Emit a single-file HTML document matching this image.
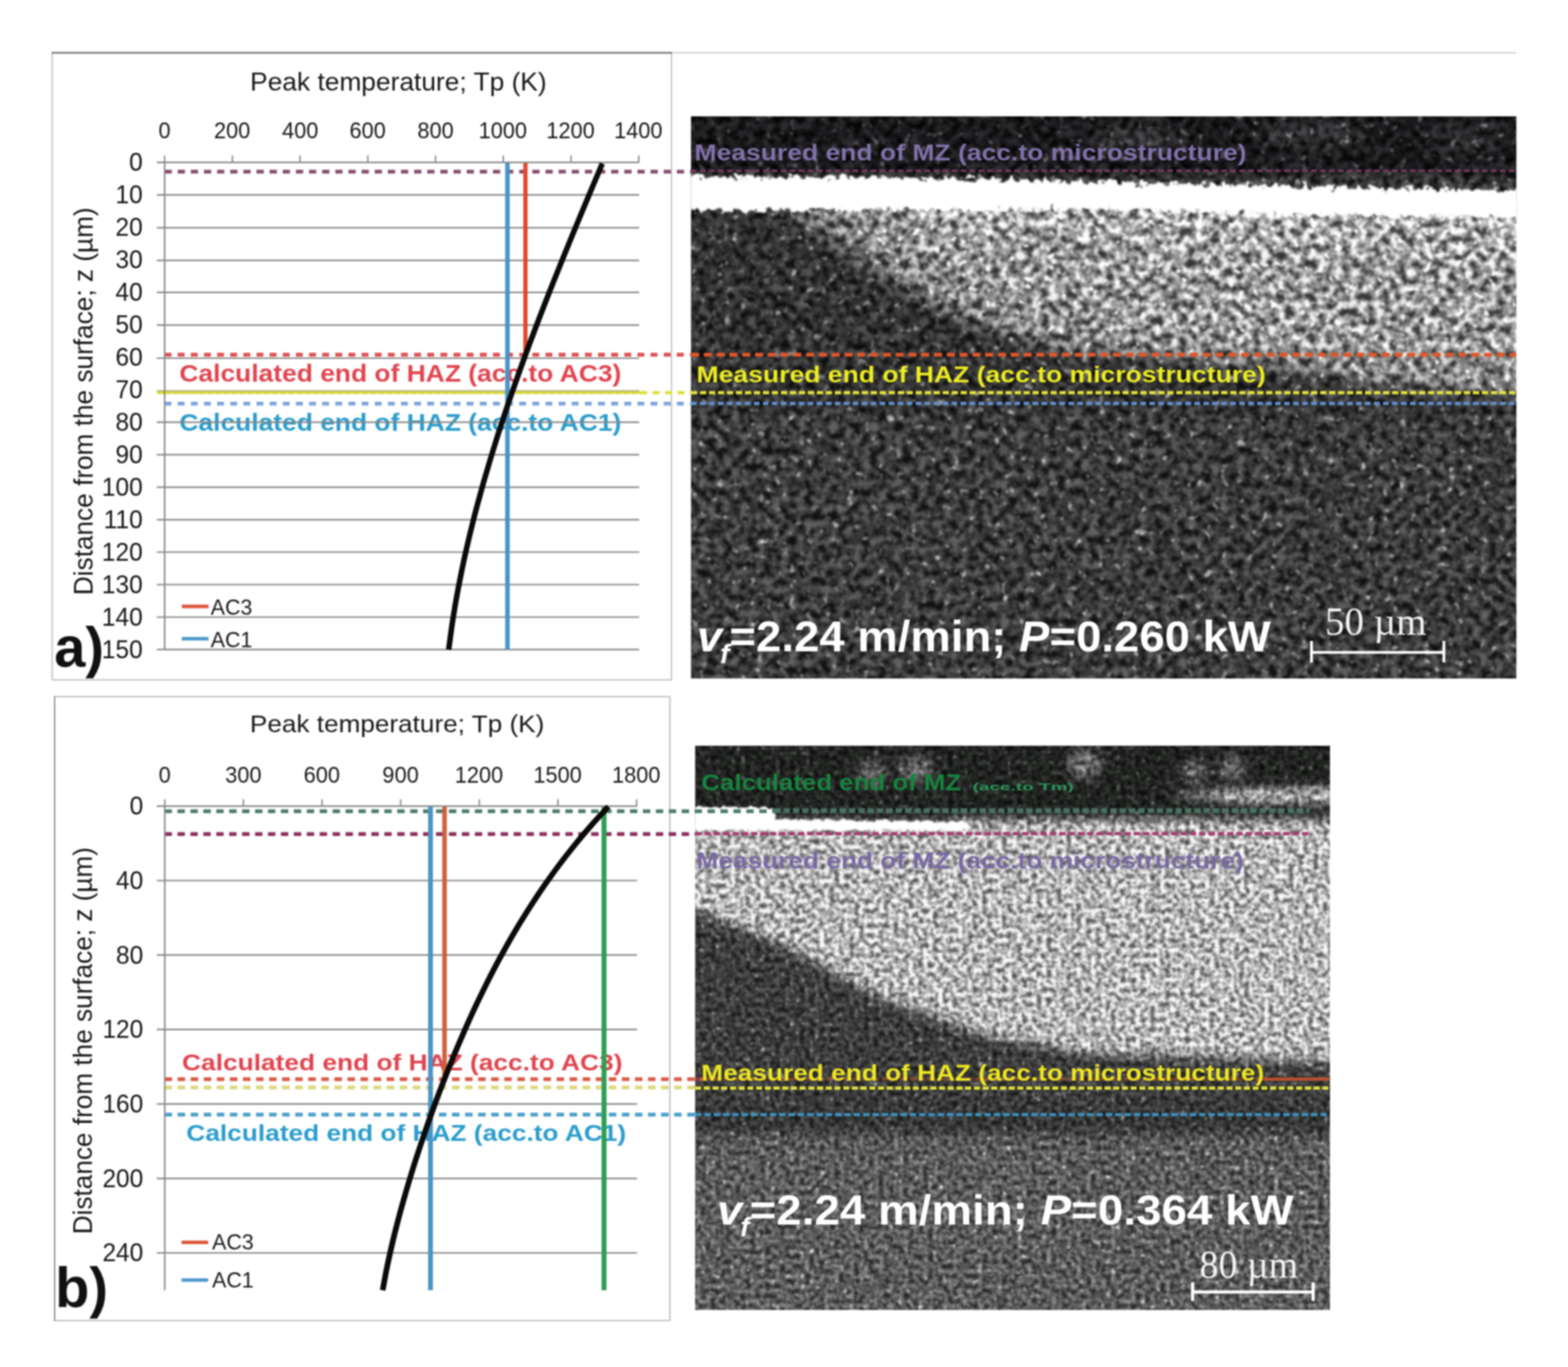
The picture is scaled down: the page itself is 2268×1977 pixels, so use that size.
<!DOCTYPE html>
<html lang="en"><head><meta charset="utf-8"><title>Peak temperature vs. distance from the surface</title>
<style>html,body{margin:0;padding:0;background:#ffffff}body{width:2268px;height:1977px;overflow:hidden}svg{display:block;filter:blur(0.95px)}text{font-family:"Liberation Sans",sans-serif}</style>
</head><body>
<svg width="2268" height="1977" viewBox="0 0 2268 1977">
<defs>
<filter id="texA" x="0" y="0" width="100%" height="100%" color-interpolation-filters="sRGB">
<feGaussianBlur in="SourceGraphic" stdDeviation="8" result="base"/>
<feTurbulence type="fractalNoise" baseFrequency="0.085" numOctaves="2" seed="7" result="n0"/>
<feColorMatrix in="n0" type="matrix" values="2.3 0 0 0 -0.65  2.3 0 0 0 -0.65  2.3 0 0 0 -0.65  0 0 0 0 1" result="n1"/>
<feColorMatrix in="n0" type="matrix" values="0 5 0 0 -3.2  0 5 0 0 -3.2  0 5 0 0 -3.2  0 0 0 0 1" result="sp"/>
<feComposite in="base" in2="n1" operator="arithmetic" k1="1.2" k2="0.38" k3="0.04" k4="-0.02" result="tex"/>
<feComposite in="base" in2="sp" operator="arithmetic" k1="1.1" k2="0" k3="0.26" k4="0" result="spk"/>
<feComposite in="tex" in2="spk" operator="arithmetic" k1="0" k2="1" k3="1" k4="0" result="mix"/>
<feGaussianBlur in="mix" stdDeviation="0.9"/>
</filter>
<filter id="texB" x="0" y="0" width="100%" height="100%" color-interpolation-filters="sRGB">
<feGaussianBlur in="SourceGraphic" stdDeviation="8" result="base"/>
<feTurbulence type="fractalNoise" baseFrequency="0.14" numOctaves="2" seed="23" result="n0"/>
<feColorMatrix in="n0" type="matrix" values="2.0 0 0 0 -0.5  2.0 0 0 0 -0.5  2.0 0 0 0 -0.5  0 0 0 0 1" result="n1"/>
<feColorMatrix in="n0" type="matrix" values="0 5 0 0 -3.2  0 5 0 0 -3.2  0 5 0 0 -3.2  0 0 0 0 1" result="sp"/>
<feComposite in="base" in2="n1" operator="arithmetic" k1="1.1" k2="0.45" k3="0.04" k4="-0.02" result="tex"/>
<feComposite in="base" in2="sp" operator="arithmetic" k1="0.9" k2="0" k3="0.2" k4="0" result="spk"/>
<feComposite in="tex" in2="spk" operator="arithmetic" k1="0" k2="1" k3="1" k4="0" result="mix"/>
<feGaussianBlur in="mix" stdDeviation="0.9"/>
</filter>
<filter id="ragA" x="-2%" y="-60%" width="104%" height="220%" color-interpolation-filters="sRGB">
<feTurbulence type="fractalNoise" baseFrequency="0.12" numOctaves="2" seed="3" result="t"/>
<feDisplacementMap in="SourceGraphic" in2="t" scale="22" xChannelSelector="R" yChannelSelector="G" result="d"/>
<feGaussianBlur in="d" stdDeviation="0.9"/>
</filter>
<filter id="ragB" x="-2%" y="-60%" width="104%" height="220%" color-interpolation-filters="sRGB">
<feTurbulence type="fractalNoise" baseFrequency="0.12" numOctaves="2" seed="5" result="t"/>
<feDisplacementMap in="SourceGraphic" in2="t" scale="10" xChannelSelector="R" yChannelSelector="G" result="d"/>
<feGaussianBlur in="d" stdDeviation="0.9"/>
</filter>
</defs>
<clipPath id="clipA"><rect x="999.5" y="168.3" width="1193.8" height="813.0"/></clipPath>
<g id="micro-a" clip-path="url(#clipA)">
<g filter="url(#texA)">
<rect x="939.5" y="108.30000000000001" width="1313.8" height="933.0" fill="#3a3a3a"/>
<path d="M930,290 L1215,290 L1342,399 L1462,466 L1553,502 L1700,520 L1800,560 L2260,600 L930,600 Z" fill="#313131"/>
<path d="M1105,296 L1195,352 L1270,402 L1340,444 L1420,480 L1535,512 L1700,524 L1830,532 L2000,560 L2260,576 L2260,290 Z" fill="#5a5a5a"/>
<path d="M1150,296 L1235,350 L1305,399 L1370,438 L1445,472 L1550,504 L1700,516 L1830,524 L2000,552 L2260,568 L2260,290 Z" fill="#848484"/>
<path d="M1250,296 L1370,390 L1540,470 L1800,500 L2260,520 L2260,290 Z" fill="#969696"/>
<path d="M1300,296 L1430,340 L1800,360 L2260,380 L2260,290 Z" fill="#a6a6a6"/>
<rect x="939.5" y="108.30000000000001" width="1313.8" height="145.7" fill="#19191b"/>
<ellipse cx="1640" cy="200" rx="60" ry="22" fill="#2e2e30"/><ellipse cx="1900" cy="196" rx="80" ry="22" fill="#2c2c2e"/><ellipse cx="2120" cy="200" rx="50" ry="20" fill="#2a2a2c"/>
</g>
<path filter="url(#ragA)" d="M930,255 L1300,256 L1583,263 L1900,270 L2260,277 L2260,316 L1900,311 L1583,303 L1300,303 L1100,305 L930,307 Z" fill="#ffffff"/>
<line x1="999.5" y1="247.0" x2="2193.3" y2="247.0" stroke="#7a3a60" stroke-width="3.5" stroke-dasharray="8 5"/>
<line x1="999.5" y1="513.0" x2="2193.3" y2="513.0" stroke="#e2562a" stroke-width="5.6" stroke-dasharray="11.5 7"/>
<line x1="999.5" y1="567.8" x2="2193.3" y2="567.8" stroke="#e4e43a" stroke-width="4.8" stroke-dasharray="9 4"/>
<line x1="999.5" y1="583.5" x2="2193.3" y2="583.5" stroke="#5e8ecc" stroke-width="5" stroke-dasharray="8 5"/>
<text transform="translate(1004.51,232.00) scale(1.1376,1)" font-size="33.7" fill="#8272ac" font-weight="700" >Measured end of MZ (acc.to microstructure)</text>
<text transform="translate(1007.50,553.10) scale(1.1394,1)" font-size="33.7" fill="#eeee22" font-weight="700" >Measured end of HAZ (acc.to microstructure)</text>
<text transform="translate(1008,942) scale(1.037,1)" font-size="63.5" fill="#ffffff" font-weight="700"><tspan font-style="italic">v</tspan><tspan font-style="italic" font-size="39.4" dx="-3" dy="17">f</tspan><tspan dy="-17">=2.24 m/min; </tspan><tspan font-style="italic">P</tspan>=0.260 kW</text>
<text transform="translate(1916.60,918.00) scale(0.9715,1)" font-size="58" fill="#f4f4f4" font-weight="400" style="font-family:'Liberation Serif',serif" >50 µm</text>
<line x1="1895.6" y1="943.4" x2="2089.8" y2="943.4" stroke="#ffffff" stroke-width="4" />
<line x1="1897.0" y1="927.0" x2="1897.0" y2="958.0" stroke="#ffffff" stroke-width="4" />
<line x1="2088.5" y1="927.0" x2="2088.5" y2="958.0" stroke="#ffffff" stroke-width="4" />
</g>
<clipPath id="clipB"><rect x="1005.5" y="1078.5" width="918.2" height="816.0"/></clipPath>
<g id="micro-b" clip-path="url(#clipB)">
<g filter="url(#texB)">
<rect x="945.5" y="1018.5" width="1038.2" height="936.0" fill="#585858"/>
<rect x="945.5" y="1565" width="1038.2" height="75" fill="#343434"/>
<path d="M940,1290 L1005,1315 L1127,1364 L1275,1443 L1422,1500 L1569,1526 L1990,1540 L1990,1600 L940,1600 Z" fill="#3a3a3a"/>
<path d="M940,1195 L1990,1195 L1990,1537 L1569,1522 L1422,1496 L1275,1443 L1127,1364 L1005,1315 L940,1290 Z" fill="#b0b0b0"/>
<rect x="945.5" y="1018.5" width="1038.2" height="165.5" fill="#202220"/>
<ellipse cx="1262" cy="1118" rx="20" ry="18" fill="#606060"/><ellipse cx="1325" cy="1112" rx="24" ry="18" fill="#686868"/>
<ellipse cx="1569" cy="1105" rx="24" ry="20" fill="#707070"/><ellipse cx="1728" cy="1116" rx="16" ry="16" fill="#6c6c6c"/><ellipse cx="1782" cy="1110" rx="17" ry="17" fill="#6c6c6c"/>
<path d="M1690,1150 L1800,1142 L1990,1140 L1990,1160 L1800,1160 Z" fill="#c8c8c8"/>
<path d="M1380,1186 L1990,1186 L1990,1200 L1380,1200 Z" fill="#b8b8b8"/>
</g>
<path filter="url(#ragB)" d="M940,1167 L1118,1167 L1122,1185 L1250,1186 L1400,1189 L1400,1201 L940,1201 Z" fill="#ffffff"/>
<line x1="1120.0" y1="1172.2" x2="1894.0" y2="1172.2" stroke="#4c7a68" stroke-width="7" stroke-dasharray="9 4.5" opacity="0.9"/>
<line x1="1005.5" y1="1205.6" x2="1894.0" y2="1205.6" stroke="#a83c72" stroke-width="4.6" stroke-dasharray="9 4.5"/>
<line x1="1005.5" y1="1560.6" x2="1827.0" y2="1560.6" stroke="#b4502c" stroke-width="4.5" stroke-dasharray="9 4.5" opacity="0.6"/>
<line x1="1827.0" y1="1560.6" x2="1923.7" y2="1560.6" stroke="#b8522e" stroke-width="4.6" />
<line x1="1005.5" y1="1573.6" x2="1923.7" y2="1573.6" stroke="#e2e23a" stroke-width="4.6" stroke-dasharray="8.6 4"/>
<line x1="1005.5" y1="1612.0" x2="1929.0" y2="1612.0" stroke="#3a94c6" stroke-width="4.6" stroke-dasharray="9 4.5"/>
<text transform="translate(1014.50,1143.10) scale(1.1326,1)" font-size="33" fill="#17843f" font-weight="700" >Calculated end of MZ</text>
<text transform="translate(1406.76,1143.10) scale(1.8949,1)" font-size="14.5" fill="#2a9a5a" font-weight="700" >(acc.to Tm)</text>
<text transform="translate(1007.33,1256.00) scale(1.1518,1)" font-size="33" fill="#7868a4" font-weight="700" >Measured end of MZ (acc.to microstructure)</text>
<text transform="translate(1014.33,1563.00) scale(1.1507,1)" font-size="33" fill="#f0e822" font-weight="700" >Measured end of HAZ (acc.to microstructure)</text>
<text transform="translate(1037,1770.5) scale(1.067,1)" font-size="62" fill="#ffffff" font-weight="700"><tspan font-style="italic">v</tspan><tspan font-style="italic" font-size="38.4" dx="-3" dy="17">f</tspan><tspan dy="-17">=2.24 m/min; </tspan><tspan font-style="italic">P</tspan>=0.364 kW</text>
<text transform="translate(1735.08,1847.50) scale(0.9780,1)" font-size="56" fill="#f4f4f4" font-weight="400" style="font-family:'Liberation Serif',serif" >80 µm</text>
<line x1="1723.5" y1="1868.5" x2="1900.6" y2="1868.5" stroke="#ffffff" stroke-width="4.6" />
<line x1="1725.0" y1="1854.5" x2="1725.0" y2="1881.5" stroke="#ffffff" stroke-width="4.6" />
<line x1="1899.3" y1="1854.5" x2="1899.3" y2="1881.5" stroke="#ffffff" stroke-width="4.6" />
</g>
<g id="chart-a">
<rect x="75.5" y="76.3" width="895.8" height="907" fill="#ffffff" stroke="#b4b4b4" stroke-width="1.6"/>
<line x1="74.7" y1="76.3" x2="972.1" y2="76.3" stroke="#6e6e6e" stroke-width="2.2" />
<line x1="972.1" y1="76.3" x2="2193.0" y2="76.3" stroke="#c6c6c6" stroke-width="1.8" />
<line x1="238.0" y1="248.3" x2="1000.0" y2="248.3" stroke="#87506f" stroke-width="5.4" stroke-dasharray="10.5 8.5"/>
<line x1="238.0" y1="513.0" x2="1000.0" y2="513.0" stroke="#e04e50" stroke-width="5.6" stroke-dasharray="10 9"/>
<line x1="926.0" y1="567.8" x2="1000.0" y2="567.8" stroke="#dede3c" stroke-width="4.8" stroke-dasharray="10 8"/>
<line x1="238.0" y1="583.8" x2="1000.0" y2="583.8" stroke="#7ea4da" stroke-width="5.4" stroke-dasharray="10 9"/>
<text transform="translate(259.47,552.00) scale(1.1072,1)" font-size="34.5" fill="#e0444e" font-weight="700" >Calculated end of HAZ (acc.to AC3)</text>
<text transform="translate(259.47,623.40) scale(1.1072,1)" font-size="34.5" fill="#2a9ccc" font-weight="700" >Calculated end of HAZ (acc.to AC1)</text>
<text transform="translate(361.75,130.50) scale(1.0583,1)" font-size="36" fill="#181818" font-weight="400" >Peak temperature; Tp (K)</text>
<text transform="translate(229.35,199.60) scale(0.9550,1)" font-size="33" fill="#181818" font-weight="400" >0</text>
<line x1="238.1" y1="224.8" x2="238.1" y2="234.9" stroke="#868686" stroke-width="2" />
<text transform="translate(309.56,199.60) scale(0.9550,1)" font-size="33" fill="#181818" font-weight="400" >200</text>
<line x1="336.1" y1="224.8" x2="336.1" y2="234.9" stroke="#868686" stroke-width="2" />
<text transform="translate(408.01,199.60) scale(0.9550,1)" font-size="33" fill="#181818" font-weight="400" >400</text>
<line x1="434.0" y1="224.8" x2="434.0" y2="234.9" stroke="#868686" stroke-width="2" />
<text transform="translate(505.51,199.60) scale(0.9550,1)" font-size="33" fill="#181818" font-weight="400" >600</text>
<line x1="532.0" y1="224.8" x2="532.0" y2="234.9" stroke="#868686" stroke-width="2" />
<text transform="translate(603.63,199.60) scale(0.9550,1)" font-size="33" fill="#181818" font-weight="400" >800</text>
<line x1="630.0" y1="224.8" x2="630.0" y2="234.9" stroke="#868686" stroke-width="2" />
<text transform="translate(692.29,199.60) scale(0.9550,1)" font-size="33" fill="#181818" font-weight="400" >1000</text>
<line x1="728.0" y1="224.8" x2="728.0" y2="234.9" stroke="#868686" stroke-width="2" />
<text transform="translate(790.26,199.60) scale(0.9550,1)" font-size="33" fill="#181818" font-weight="400" >1200</text>
<line x1="825.9" y1="224.8" x2="825.9" y2="234.9" stroke="#868686" stroke-width="2" />
<text transform="translate(888.23,199.60) scale(0.9550,1)" font-size="33" fill="#181818" font-weight="400" >1400</text>
<line x1="923.9" y1="224.8" x2="923.9" y2="234.9" stroke="#868686" stroke-width="2" />
<line x1="226.8" y1="234.9" x2="924.5" y2="234.9" stroke="#868686" stroke-width="2.2" />
<text transform="translate(186.77,247.30) scale(0.9500,1)" font-size="37.3" fill="#181818" font-weight="400" >0</text>
<line x1="226.8" y1="281.9" x2="924.5" y2="281.9" stroke="#868686" stroke-width="2.2" />
<text transform="translate(167.07,294.27) scale(0.9500,1)" font-size="37.3" fill="#181818" font-weight="400" >10</text>
<line x1="226.8" y1="329.4" x2="924.5" y2="329.4" stroke="#868686" stroke-width="2.2" />
<text transform="translate(167.07,341.24) scale(0.9500,1)" font-size="37.3" fill="#181818" font-weight="400" >20</text>
<line x1="226.8" y1="376.6" x2="924.5" y2="376.6" stroke="#868686" stroke-width="2.2" />
<text transform="translate(167.07,388.21) scale(0.9500,1)" font-size="37.3" fill="#181818" font-weight="400" >30</text>
<line x1="226.8" y1="422.8" x2="924.5" y2="422.8" stroke="#868686" stroke-width="2.2" />
<text transform="translate(167.07,435.18) scale(0.9500,1)" font-size="37.3" fill="#181818" font-weight="400" >40</text>
<line x1="226.8" y1="470.2" x2="924.5" y2="470.2" stroke="#868686" stroke-width="2.2" />
<text transform="translate(167.07,482.15) scale(0.9500,1)" font-size="37.3" fill="#181818" font-weight="400" >50</text>
<line x1="226.8" y1="518.0" x2="924.5" y2="518.0" stroke="#868686" stroke-width="2.2" />
<text transform="translate(167.07,529.12) scale(0.9500,1)" font-size="37.3" fill="#181818" font-weight="400" >60</text>
<line x1="226.8" y1="565.5" x2="924.5" y2="565.5" stroke="#868686" stroke-width="2.2" />
<text transform="translate(167.07,576.09) scale(0.9500,1)" font-size="37.3" fill="#181818" font-weight="400" >70</text>
<line x1="226.8" y1="610.7" x2="924.5" y2="610.7" stroke="#868686" stroke-width="2.2" />
<text transform="translate(167.07,623.06) scale(0.9500,1)" font-size="37.3" fill="#181818" font-weight="400" >80</text>
<line x1="226.8" y1="657.6" x2="924.5" y2="657.6" stroke="#868686" stroke-width="2.2" />
<text transform="translate(167.07,670.03) scale(0.9500,1)" font-size="37.3" fill="#181818" font-weight="400" >90</text>
<line x1="226.8" y1="704.6" x2="924.5" y2="704.6" stroke="#868686" stroke-width="2.2" />
<text transform="translate(147.36,717.00) scale(0.9500,1)" font-size="37.3" fill="#181818" font-weight="400" >100</text>
<line x1="226.8" y1="751.6" x2="924.5" y2="751.6" stroke="#868686" stroke-width="2.2" />
<text transform="translate(149.99,763.97) scale(0.9500,1)" font-size="37.3" fill="#181818" font-weight="400" >110</text>
<line x1="226.8" y1="798.5" x2="924.5" y2="798.5" stroke="#868686" stroke-width="2.2" />
<text transform="translate(147.36,810.94) scale(0.9500,1)" font-size="37.3" fill="#181818" font-weight="400" >120</text>
<line x1="226.8" y1="845.5" x2="924.5" y2="845.5" stroke="#868686" stroke-width="2.2" />
<text transform="translate(147.36,857.91) scale(0.9500,1)" font-size="37.3" fill="#181818" font-weight="400" >130</text>
<line x1="226.8" y1="892.5" x2="924.5" y2="892.5" stroke="#868686" stroke-width="2.2" />
<text transform="translate(147.36,904.88) scale(0.9500,1)" font-size="37.3" fill="#181818" font-weight="400" >140</text>
<line x1="226.8" y1="939.4" x2="924.5" y2="939.4" stroke="#868686" stroke-width="2.2" />
<text transform="translate(147.36,951.85) scale(0.9500,1)" font-size="37.3" fill="#181818" font-weight="400" >150</text>
<line x1="227.0" y1="567.8" x2="926.0" y2="567.8" stroke="#d9d93a" stroke-width="4.4" stroke-dasharray="11 0.8"/>
<line x1="238.1" y1="234.9" x2="238.1" y2="939.4" stroke="#868686" stroke-width="2.2" />
<text transform="translate(134.20,860.83) rotate(-90) scale(0.9978,1)" font-size="38" fill="#181818">Distance from the surface; z (µm)</text>
<line x1="734.0" y1="236.0" x2="734.0" y2="939.6" stroke="#4a94c4" stroke-width="6.6" />
<line x1="760.0" y1="236.0" x2="760.0" y2="515.0" stroke="#e2472b" stroke-width="6.2" />
<path d="M871.2,236.5 C868.6,242.7 860.8,261.2 855.6,273.5 C850.4,285.8 845.3,298.2 840.1,310.5 C835.0,322.8 829.9,335.2 824.8,347.5 C819.8,359.9 814.7,372.2 809.8,384.5 C804.8,396.9 799.9,409.2 795.0,421.5 C790.1,433.9 785.3,446.2 780.6,458.5 C775.8,470.9 771.2,483.2 766.6,495.5 C762.0,507.9 757.4,520.2 753.0,532.5 C748.6,544.9 744.2,557.2 740.0,569.5 C735.7,581.9 731.5,594.2 727.5,606.6 C723.4,618.9 719.4,631.2 715.6,643.6 C711.7,655.9 708.0,668.2 704.4,680.6 C700.7,692.9 697.2,705.2 693.9,717.6 C690.5,729.9 687.2,742.2 684.1,754.6 C681.0,766.9 678.1,779.2 675.2,791.6 C672.4,803.9 669.7,816.2 667.2,828.6 C664.7,840.9 662.3,853.3 660.1,865.6 C657.9,877.9 655.9,890.3 654.0,902.6 C652.2,914.9 649.8,933.4 649.0,939.6" fill="none" stroke="#0a0a0a" stroke-width="8"/>
<line x1="263.0" y1="877.0" x2="301.6" y2="877.0" stroke="#dc5236" stroke-width="5" />
<text transform="translate(304.80,889.00) scale(1.0000,1)" font-size="31" fill="#181818" font-weight="400" >AC3</text>
<line x1="263.0" y1="923.8" x2="301.6" y2="923.8" stroke="#4a98cc" stroke-width="5" />
<text transform="translate(304.80,936.30) scale(1.0000,1)" font-size="31" fill="#181818" font-weight="400" >AC1</text>
<text transform="translate(78.47,964.30) scale(1.0000,1)" font-size="81" fill="#111111" font-weight="700" >a)</text>
</g>
<g id="chart-b">
<rect x="79" y="1007.5" width="890" height="902.3" fill="#ffffff" stroke="#b0b0b0" stroke-width="1.6"/>
<line x1="79.0" y1="1007.0" x2="79.0" y2="1910.5" stroke="#8e8e8e" stroke-width="2" />
<line x1="238.0" y1="1173.3" x2="1120.0" y2="1173.3" stroke="#4c7c6a" stroke-width="5.4" stroke-dasharray="10.7 8"/>
<line x1="238.0" y1="1206.3" x2="1006.0" y2="1206.3" stroke="#8c2f60" stroke-width="5.4" stroke-dasharray="10.7 8"/>
<line x1="238.0" y1="1560.8" x2="1016.0" y2="1560.8" stroke="#dc5a48" stroke-width="5.4" stroke-dasharray="10.9 8"/>
<line x1="238.0" y1="1572.8" x2="1006.0" y2="1572.8" stroke="#dcd87c" stroke-width="5.4" stroke-dasharray="10.9 8"/>
<line x1="238.0" y1="1612.0" x2="1006.0" y2="1612.0" stroke="#4aa0cc" stroke-width="5.4" stroke-dasharray="10.9 8"/>
<text transform="translate(263.28,1548.10) scale(1.1193,1)" font-size="34" fill="#e0444e" font-weight="700" >Calculated end of HAZ (acc.to AC3)</text>
<text transform="translate(269.48,1650.10) scale(1.1180,1)" font-size="34" fill="#2a9ccc" font-weight="700" >Calculated end of HAZ (acc.to AC1)</text>
<text transform="translate(361.47,1058.70) scale(1.0509,1)" font-size="36" fill="#181818" font-weight="400" >Peak temperature; Tp (K)</text>
<text transform="translate(229.55,1131.70) scale(0.9550,1)" font-size="33" fill="#181818" font-weight="400" >0</text>
<line x1="238.3" y1="1155.8" x2="238.3" y2="1165.8" stroke="#868686" stroke-width="2" />
<text transform="translate(325.78,1131.70) scale(0.9550,1)" font-size="33" fill="#181818" font-weight="400" >300</text>
<line x1="352.1" y1="1155.8" x2="352.1" y2="1165.8" stroke="#868686" stroke-width="2" />
<text transform="translate(439.29,1131.70) scale(0.9550,1)" font-size="33" fill="#181818" font-weight="400" >600</text>
<line x1="465.8" y1="1155.8" x2="465.8" y2="1165.8" stroke="#868686" stroke-width="2" />
<text transform="translate(553.12,1131.70) scale(0.9550,1)" font-size="33" fill="#181818" font-weight="400" >900</text>
<line x1="579.5" y1="1155.8" x2="579.5" y2="1165.8" stroke="#868686" stroke-width="2" />
<text transform="translate(657.63,1131.70) scale(0.9550,1)" font-size="33" fill="#181818" font-weight="400" >1200</text>
<line x1="693.3" y1="1155.8" x2="693.3" y2="1165.8" stroke="#868686" stroke-width="2" />
<text transform="translate(771.38,1131.70) scale(0.9550,1)" font-size="33" fill="#181818" font-weight="400" >1500</text>
<line x1="807.0" y1="1155.8" x2="807.0" y2="1165.8" stroke="#868686" stroke-width="2" />
<text transform="translate(885.13,1131.70) scale(0.9550,1)" font-size="33" fill="#181818" font-weight="400" >1800</text>
<line x1="920.8" y1="1155.8" x2="920.8" y2="1165.8" stroke="#868686" stroke-width="2" />
<line x1="226.8" y1="1165.8" x2="921.4" y2="1165.8" stroke="#868686" stroke-width="2.2" />
<text transform="translate(187.57,1178.20) scale(0.9500,1)" font-size="37.3" fill="#181818" font-weight="400" >0</text>
<line x1="226.8" y1="1273.5" x2="921.4" y2="1273.5" stroke="#868686" stroke-width="2.2" />
<text transform="translate(167.87,1285.90) scale(0.9500,1)" font-size="37.3" fill="#181818" font-weight="400" >40</text>
<line x1="226.8" y1="1381.2" x2="921.4" y2="1381.2" stroke="#868686" stroke-width="2.2" />
<text transform="translate(167.87,1393.60) scale(0.9500,1)" font-size="37.3" fill="#181818" font-weight="400" >80</text>
<line x1="226.8" y1="1488.9" x2="921.4" y2="1488.9" stroke="#868686" stroke-width="2.2" />
<text transform="translate(148.16,1501.30) scale(0.9500,1)" font-size="37.3" fill="#181818" font-weight="400" >120</text>
<line x1="226.8" y1="1596.6" x2="921.4" y2="1596.6" stroke="#868686" stroke-width="2.2" />
<text transform="translate(148.16,1609.00) scale(0.9500,1)" font-size="37.3" fill="#181818" font-weight="400" >160</text>
<line x1="226.8" y1="1704.3" x2="921.4" y2="1704.3" stroke="#868686" stroke-width="2.2" />
<text transform="translate(148.16,1716.70) scale(0.9500,1)" font-size="37.3" fill="#181818" font-weight="400" >200</text>
<line x1="226.8" y1="1812.0" x2="921.4" y2="1812.0" stroke="#868686" stroke-width="2.2" />
<text transform="translate(148.16,1824.40) scale(0.9500,1)" font-size="37.3" fill="#181818" font-weight="400" >240</text>
<line x1="238.3" y1="1165.8" x2="238.3" y2="1866.0" stroke="#868686" stroke-width="2.2" />
<text transform="translate(133.40,1785.03) rotate(-90) scale(0.9960,1)" font-size="38" fill="#181818">Distance from the surface; z (µm)</text>
<line x1="622.7" y1="1167.0" x2="622.7" y2="1866.0" stroke="#4a94c4" stroke-width="7" />
<line x1="643.0" y1="1167.0" x2="643.0" y2="1558.0" stroke="#cf603c" stroke-width="6.6" />
<line x1="873.7" y1="1167.0" x2="873.7" y2="1866.0" stroke="#2e9e52" stroke-width="7.2" />
<path d="M880.0,1166.5 C875.7,1171.2 862.7,1185.2 854.5,1194.5 C846.4,1203.8 838.5,1213.1 831.0,1222.5 C823.4,1231.8 816.2,1241.1 809.2,1250.4 C802.1,1259.8 795.4,1269.1 788.9,1278.4 C782.4,1287.7 776.1,1297.1 770.0,1306.4 C763.9,1315.7 758.1,1325.1 752.4,1334.4 C746.7,1343.7 741.3,1353.0 735.9,1362.4 C730.6,1371.7 725.5,1381.0 720.5,1390.3 C715.5,1399.7 710.6,1409.0 705.9,1418.3 C701.2,1427.6 696.6,1437.0 692.2,1446.3 C687.7,1455.6 683.4,1465.0 679.1,1474.3 C674.9,1483.6 670.8,1492.9 666.8,1502.3 C662.7,1511.6 658.8,1520.9 655.0,1530.2 C651.2,1539.6 647.4,1548.9 643.8,1558.2 C640.1,1567.5 636.5,1576.9 633.0,1586.2 C629.5,1595.5 626.1,1604.9 622.8,1614.2 C619.4,1623.5 616.2,1632.8 613.0,1642.2 C609.8,1651.5 606.7,1660.8 603.7,1670.1 C600.6,1679.5 597.7,1688.8 594.8,1698.1 C591.9,1707.4 589.2,1716.8 586.5,1726.1 C583.8,1735.4 581.1,1744.8 578.6,1754.1 C576.1,1763.4 573.7,1772.7 571.3,1782.1 C569.0,1791.4 566.8,1800.7 564.7,1810.0 C562.6,1819.4 560.6,1828.7 558.7,1838.0 C556.9,1847.3 554.4,1861.3 553.5,1866.0" fill="none" stroke="#0a0a0a" stroke-width="8.2"/>
<line x1="262.6" y1="1796.8" x2="301.1" y2="1796.8" stroke="#dc5236" stroke-width="5" />
<text transform="translate(306.80,1807.10) scale(1.0000,1)" font-size="31" fill="#181818" font-weight="400" >AC3</text>
<line x1="262.6" y1="1851.2" x2="301.1" y2="1851.2" stroke="#4a98cc" stroke-width="5" />
<text transform="translate(306.80,1862.40) scale(1.0000,1)" font-size="31" fill="#181818" font-weight="400" >AC1</text>
<text transform="translate(79.73,1889.50) scale(1.0000,1)" font-size="81" fill="#111111" font-weight="700" >b)</text>
</g>
</svg>
</body></html>
